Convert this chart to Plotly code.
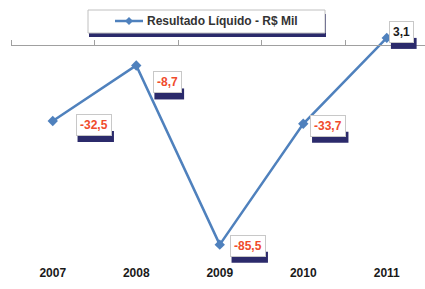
import plotly.graph_objects as go

years = ["2007", "2008", "2009", "2010", "2011"]
values = [-32.5, -8.7, -85.5, -33.7, 3.1]
series_name = "Resultado Líquido - R$ Mil"

# label offsets (px right, px down) from each point -- style only
label_dx = [41, 31, 28, 25, 15]
label_dy = [4, 17, 1, 2, -6]

line_color = "#4f81bd"
navy = "#2b2a6b"
label_red = "#f04b2c"
label_dark = "#1a1a1a"

W, H = 425, 289
ML, MR, MT, MB = 11, 0, 0, 25
PW, PH = W - ML - MR, H - MT - MB

def px(x):
    return (x - ML) / PW

def py(y):
    return 1 - (y - MT) / PH

xs = list(range(len(years)))
ymin, ymax = -93.8, 19.35
zero_pos = (0 - ymin) / (ymax - ymin)

fig = go.Figure()
fig.add_trace(go.Scatter(
    x=xs, y=values, mode="lines+markers", name=series_name,
    line=dict(color=line_color, width=2.5),
    marker=dict(symbol="diamond", size=8, color=line_color),
    showlegend=False,
))
fig.add_trace(go.Scatter(x=[0], y=[0], xaxis="x2", mode="markers",
                         marker=dict(opacity=0), showlegend=False, hoverinfo="skip"))

def fmt(v):
    return f"{v:.1f}".replace(".", ",")

CHAR_W = {"-": 4.0, ",": 3.3}

for x, v, dx, dy in zip(xs, values, label_dx, label_dy):
    txt = fmt(v)
    w = sum(CHAR_W.get(c, 6.7) for c in txt) + 9
    h = 24
    fig.add_shape(type="rect", xref="x", yref="y", xsizemode="pixel", ysizemode="pixel",
                  xanchor=x, yanchor=v,
                  x0=dx - w / 2 + 2, x1=dx + w / 2 + 2,
                  y0=-dy - h / 2 - 5, y1=-dy - h / 2 + 6,
                  fillcolor=navy, line=dict(width=0), layer="above")
    fig.add_annotation(x=x, y=v, xref="x", yref="y", showarrow=False,
                       borderpad=3, borderwidth=1,
                       text="<b>" + txt + "</b>",
                       font=dict(family="Liberation Sans", size=12,
                                 color=label_red if v < 0 else label_dark),
                       bgcolor="white", bordercolor="#c8c8c8",
                       xshift=dx, yshift=-dy)

# custom legend box with shadow
fig.add_shape(type="rect", xref="paper", yref="paper",
              x0=px(89), x1=px(326), y0=py(37), y1=py(14),
              fillcolor=navy, line=dict(width=0), layer="above")
fig.add_shape(type="rect", xref="paper", yref="paper",
              x0=px(88), x1=px(325), y0=py(33), y1=py(10),
              fillcolor="white", line=dict(color="#c0c0c0", width=1), layer="above")
fig.add_shape(type="line", xref="paper", yref="paper",
              x0=px(115), x1=px(143), y0=py(21), y1=py(21),
              line=dict(color=line_color, width=2.5), layer="above")
fig.add_shape(type="path", xref="paper", yref="paper",
              path=f"M {px(129)} {py(17)} L {px(133)} {py(21)} L {px(129)} {py(25)} L {px(125)} {py(21)} Z",
              fillcolor=line_color, line=dict(width=0), layer="above")
fig.add_annotation(xref="paper", yref="paper", x=px(145), y=py(21),
                   xanchor="left", yanchor="middle", showarrow=False,
                   text="<b>" + series_name + "</b>",
                   font=dict(family="Liberation Sans", size=12, color="#333333"))

fig.update_layout(
    width=W, height=H,
    margin=dict(l=ML, r=MR, t=MT, b=MB),
    paper_bgcolor="white", plot_bgcolor="white",
    showlegend=False,
    xaxis=dict(range=[-0.5, 4.458], tickvals=xs, ticktext=["<b>" + y + "</b>" for y in years],
               showgrid=False, zeroline=False, showline=False, ticks="", automargin=False,
               tickfont=dict(family="Liberation Sans", size=12, color="#1a1a1a")),
    xaxis2=dict(overlaying="x", anchor="free", position=zero_pos, side="top",
                range=[-0.5, 4.458], tickvals=[-0.5, 0.5, 1.5, 2.5, 3.5],
                showticklabels=False, ticks="outside", ticklen=5, tickcolor="#a0a0a0",
                showline=True, linecolor="#a0a0a0", linewidth=1, showgrid=False,
                zeroline=False, automargin=False),
    yaxis=dict(range=[ymin, ymax], visible=False, showgrid=False, zeroline=False,
               automargin=False),
)
fig.write_html("out.html", config={"displayModeBar": False},
               post_script="document.body.style.margin='0';")
